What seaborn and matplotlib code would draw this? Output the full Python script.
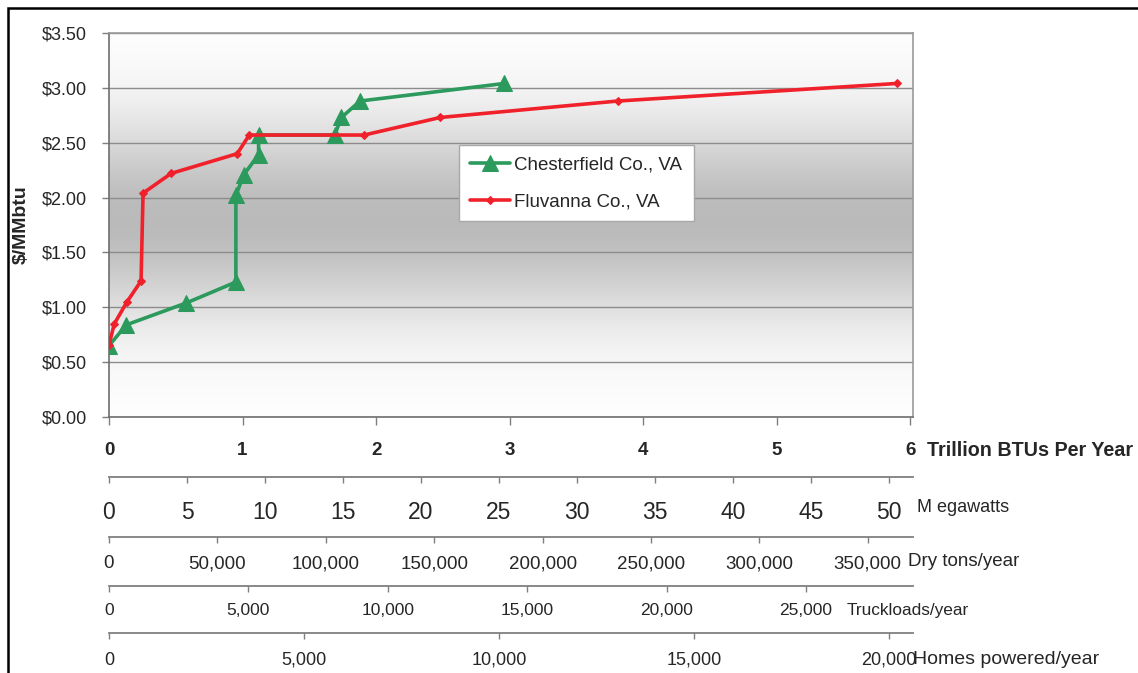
import numpy as np
import pandas as pd
import matplotlib
matplotlib.use("Agg")
import matplotlib.pyplot as plt
import seaborn as sns
from matplotlib.patches import Rectangle

# Biomass supply curves: delivered cost ($/MMbtu) vs. energy available (trillion BTU/yr)
chesterfield_btu = [0.00, 0.13, 0.58, 0.95, 0.95, 1.01, 1.12, 1.12, 1.69, 1.74, 1.88, 2.96]
chesterfield_cost = [0.65, 0.84, 1.04, 1.23, 2.02, 2.21, 2.39, 2.57, 2.57, 2.73, 2.88, 3.04]
fluvanna_btu = [0.00, 0.04, 0.135, 0.24, 0.255, 0.465, 0.96, 1.05, 1.91, 2.48, 3.81, 5.90]
fluvanna_cost = [0.66, 0.85, 1.05, 1.24, 2.04, 2.22, 2.40, 2.57, 2.57, 2.73, 2.88, 3.04]
series_names = ["Chesterfield Co., VA", "Fluvanna Co., VA"]

cost_ticks = [0.0, 0.5, 1.0, 1.5, 2.0, 2.5, 3.0, 3.5]
btu_ticks = [0, 1, 2, 3, 4, 5, 6]

# Equivalent annual quantities per trillion BTU
mw_per_tbtu = 8.56
tons_per_tbtu = 61600
trucks_per_tbtu = 4790
homes_per_tbtu = 3425

mw_ticks = [0, 5, 10, 15, 20, 25, 30, 35, 40, 45, 50]
ton_ticks = [0, 50000, 100000, 150000, 200000, 250000, 300000, 350000]
truck_ticks = [0, 5000, 10000, 15000, 20000, 25000]
home_ticks = [0, 5000, 10000, 15000, 20000]

GREEN = "#2b9a5c"
RED = "#f0212b"
AXIS_GRAY = "#7f7f7f"

sns.set_style("white")
plt.rcParams["font.family"] = ["Liberation Sans", "DejaVu Sans"]

W, H = 1138, 673
fig = plt.figure(figsize=(W / 100, H / 100), dpi=100)
ax = fig.add_axes([109 / W, 1 - 417 / H, (913 - 109) / W, 384 / H])

XMAX = 6.02
ax.set_xlim(0, XMAX)
ax.set_ylim(0, 3.5)

# vertical grey band behind the plot area
yy = np.linspace(0, 3.5, 400)
level = 1.0 - 0.27 * np.exp(-((yy - 1.8) / 0.9) ** 2)
grad = np.repeat(level[:, None], 3, axis=1)[:, None, :]
ax.imshow(grad, extent=[0, XMAX, 0, 3.5], origin="lower", aspect="auto",
          interpolation="bilinear", zorder=0)

ax.set_axisbelow(True)
ax.yaxis.grid(True, color="#8c8c8c", linewidth=1.0, zorder=0.5)
ax.xaxis.grid(False)

df_c = pd.DataFrame({"btu": chesterfield_btu, "cost": chesterfield_cost})
df_f = pd.DataFrame({"btu": fluvanna_btu, "cost": fluvanna_cost})
sns.lineplot(data=df_c, x="btu", y="cost", ax=ax, sort=False, estimator=None,
             color=GREEN, linewidth=2.6, marker="^", markersize=11,
             markeredgecolor=GREEN, label=series_names[0], zorder=3)
sns.lineplot(data=df_f, x="btu", y="cost", ax=ax, sort=False, estimator=None,
             color=RED, linewidth=2.6, marker="D", markersize=4,
             markeredgecolor=RED, label=series_names[1], zorder=4)

ax.set_yticks(cost_ticks)
ax.set_yticklabels([f"\\${v:.2f}" for v in cost_ticks], fontsize=13)
ax.set_xticks(btu_ticks)
ax.set_xticklabels([str(v) for v in btu_ticks], fontsize=13.5, fontweight="bold")
ax.tick_params(axis="y", direction="out", length=5, width=1, color=AXIS_GRAY,
               pad=11, left=True)
ax.tick_params(axis="x", direction="out", length=5.5, width=1, color=AXIS_GRAY,
               pad=12.5, bottom=True)
ax.set_xlabel("")
ax.set_ylabel("\\$/MMbtu", fontsize=14, fontweight="bold")
ax.yaxis.set_label_coords(-0.098, 0.5)

for side in ["left", "bottom"]:
    ax.spines[side].set_color("#6e6e6e")
    ax.spines[side].set_linewidth(1.2)
for side in ["top", "right"]:
    ax.spines[side].set_color("#9a9a9a")
    ax.spines[side].set_linewidth(1.2)

leg = ax.legend(loc="upper left", bbox_to_anchor=((459 - 109) / 804, (417 - 145) / 384),
                fontsize=13.5, frameon=True, fancybox=False, framealpha=1,
                facecolor="white", edgecolor="#a8a8a8", handlelength=2.1,
                handletextpad=0.25, labelspacing=1.05, borderpad=0.6,
                borderaxespad=0)
leg.get_frame().set_linewidth(1.0)


def add_scale(loc, k, ticks, fs, pad):
    sec = ax.secondary_xaxis(loc, functions=(lambda x, k=k: x * k,
                                             lambda x, k=k: x / k))
    sec.set_xticks(ticks)
    sec.set_xticklabels([f"{t:,}" for t in ticks], fontsize=fs)
    sec.tick_params(axis="x", direction="out", length=4.5, width=1,
                    color=AXIS_GRAY, pad=pad)
    sec.spines["bottom"].set_color(AXIS_GRAY)
    sec.spines["bottom"].set_linewidth(1.3)
    return sec


add_scale((417 - 477) / 384, mw_per_tbtu, mw_ticks, 16.5, 13)
add_scale((417 - 537) / 384, tons_per_tbtu, ton_ticks, 13.5, 8.5)
add_scale((417 - 586) / 384, trucks_per_tbtu, truck_ticks, 12.5, 8)
add_scale((417 - 633) / 384, homes_per_tbtu, home_ticks, 13, 9)

# scale names to the right of each axis
fig.text(927 / W, 1 - 450 / H, "Trillion BTUs Per Year", fontsize=14.2,
         fontweight="bold", ha="left", va="center")
fig.text(917 / W, 1 - 508 / H, "M egawatts", fontsize=13, ha="left", va="center")
fig.text(908 / W, 1 - 562 / H, "Dry tons/year", fontsize=13.5, ha="left", va="center")
fig.text(847 / W, 1 - 610 / H, "Truckloads/year", fontsize=12.4, ha="left", va="center")
fig.text(913 / W, 1 - 659 / H, "Homes powered/year", fontsize=14, ha="left", va="center")

# outer frame (left and top edges fall inside the canvas)
fig.add_artist(Rectangle((8 / W, -0.2), 1.5, 1.2 - 8 / H, transform=fig.transFigure,
                         fill=False, edgecolor="black", linewidth=1.8))

fig.savefig("out.png", dpi=100, facecolor="white")
